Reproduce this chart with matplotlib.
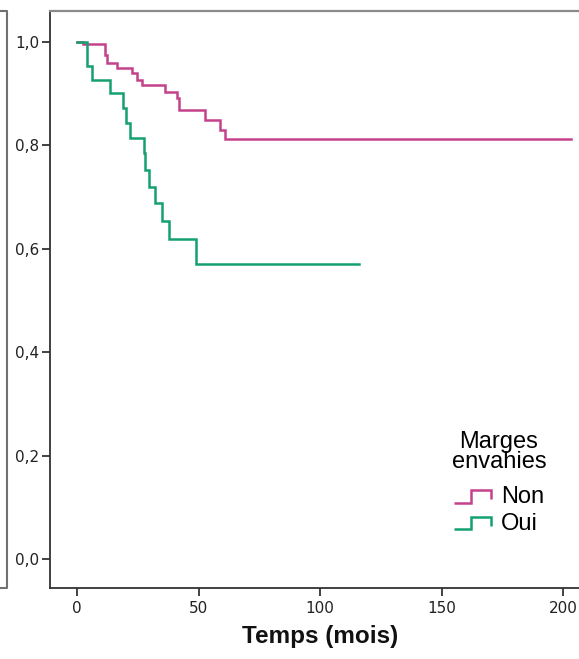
import matplotlib
matplotlib.use("Agg")
import matplotlib.pyplot as plt
from matplotlib.lines import Line2D
from matplotlib.legend_handler import HandlerBase

plt.rcParams["font.family"] = ["Liberation Sans", "DejaVu Sans"]

# Kaplan-Meier estimates (time in months, cumulative survival)
non_time = [0, 2.5, 11.5, 12.2, 16.5, 22.6, 24.7, 26.7, 36.2, 41.2, 42.0, 52.7, 58.8, 60.9, 203.0]
non_surv = [1.0, 0.995, 0.974, 0.958, 0.949, 0.939, 0.926, 0.916, 0.902, 0.891, 0.868, 0.848, 0.829, 0.811, 0.811]

oui_time = [0, 4.1, 6.2, 13.6, 19.1, 20.2, 21.8, 27.4, 27.8, 29.6, 32.1, 35.0, 37.9, 49.0, 116.0]
oui_surv = [1.0, 0.952, 0.926, 0.901, 0.871, 0.843, 0.814, 0.785, 0.752, 0.719, 0.688, 0.653, 0.618, 0.570, 0.570]

group_labels = ["Non", "Oui"]
group_colors = ["#c4418b", "#15a06f"]
legend_title = "Marges\nenvahies"
x_label = "Temps (mois)"

x_ticks = [0, 50, 100, 150, 200]
y_ticks = [0.0, 0.2, 0.4, 0.6, 0.8, 1.0]
y_tick_labels = ["0,0", "0,2", "0,4", "0,6", "0,8", "1,0"]


class StepHandler(HandlerBase):
    """Legend key drawn as a small step, like a survival curve."""

    def create_artists(self, legend, orig_handle, xdescent, ydescent,
                       width, height, fontsize, trans):
        x0, y0 = -xdescent, -ydescent
        xm = x0 + 0.46 * width
        xs = [x0, xm, xm, x0 + width, x0 + width]
        ys = [y0 + 0.05 * height, y0 + 0.05 * height, y0 + 0.78 * height,
              y0 + 0.78 * height, y0 + 0.26 * height]
        line = Line2D(xs, ys, color=orig_handle.get_color(),
                      lw=orig_handle.get_linewidth(), transform=trans,
                      solid_joinstyle="miter", solid_capstyle="butt")
        return [line]


W, H = 579, 659
fig = plt.figure(figsize=(W / 100, H / 100), dpi=100)
ax = fig.add_axes([50 / W, 71 / H, (590 - 50) / W, (588 - 11) / H])

lw = 1.8
l_non, = ax.step(non_time, non_surv, where="post", color=group_colors[0],
                 lw=lw, zorder=2, solid_joinstyle="miter")
l_oui, = ax.step(oui_time, oui_surv, where="post", color=group_colors[1],
                 lw=lw, zorder=3, solid_joinstyle="miter")

ax.set_xlim(-11.1, 211)
ax.set_ylim(-0.056, 1.059)

ax.set_xticks(x_ticks)
ax.set_xticklabels([str(v) for v in x_ticks], fontfamily="DejaVu Sans",
                   fontsize=11, color="#222222")
ax.set_yticks(y_ticks)
ax.set_yticklabels(y_tick_labels, fontfamily="DejaVu Sans",
                   fontsize=11, color="#222222")
ax.tick_params(axis="both", direction="out", length=5.5, width=1.3,
               color="#333333")
ax.tick_params(axis="x", pad=4)
ax.tick_params(axis="y", pad=2)

for side in ("left", "bottom"):
    ax.spines[side].set_color("#333333")
    ax.spines[side].set_linewidth(1.3)
ax.spines["top"].set_color("#8a8a8a")
ax.spines["top"].set_linewidth(1.6)
ax.spines["right"].set_visible(False)

ax.set_xlabel(x_label, fontsize=17.5, fontweight="bold", labelpad=6,
              color="#111111")

leg = ax.legend([l_non, l_oui], group_labels, title=legend_title,
                handler_map={Line2D: StepHandler()},
                loc="upper center", bbox_transform=fig.transFigure,
                bbox_to_anchor=(499 / W, 1 - 414 / H),
                frameon=False, fontsize=17, title_fontsize=17,
                handlelength=1.55, handletextpad=0.42, labelspacing=0.2,
                borderpad=0.2)
leg.get_title().set_linespacing(0.92)
leg.get_title().set_multialignment("center")
# extra room between the title and the entries
leg._legend_box.sep = 9.5

# edge of the neighbouring panel frame
fig.add_artist(Line2D([0, 7 / W, 7 / W, 0],
                      [1 - 11 / H, 1 - 11 / H, 1 - 588 / H, 1 - 588 / H],
                      transform=fig.transFigure, color="#707070", lw=1.5))

fig.savefig("out.png", dpi=100, facecolor="white")
